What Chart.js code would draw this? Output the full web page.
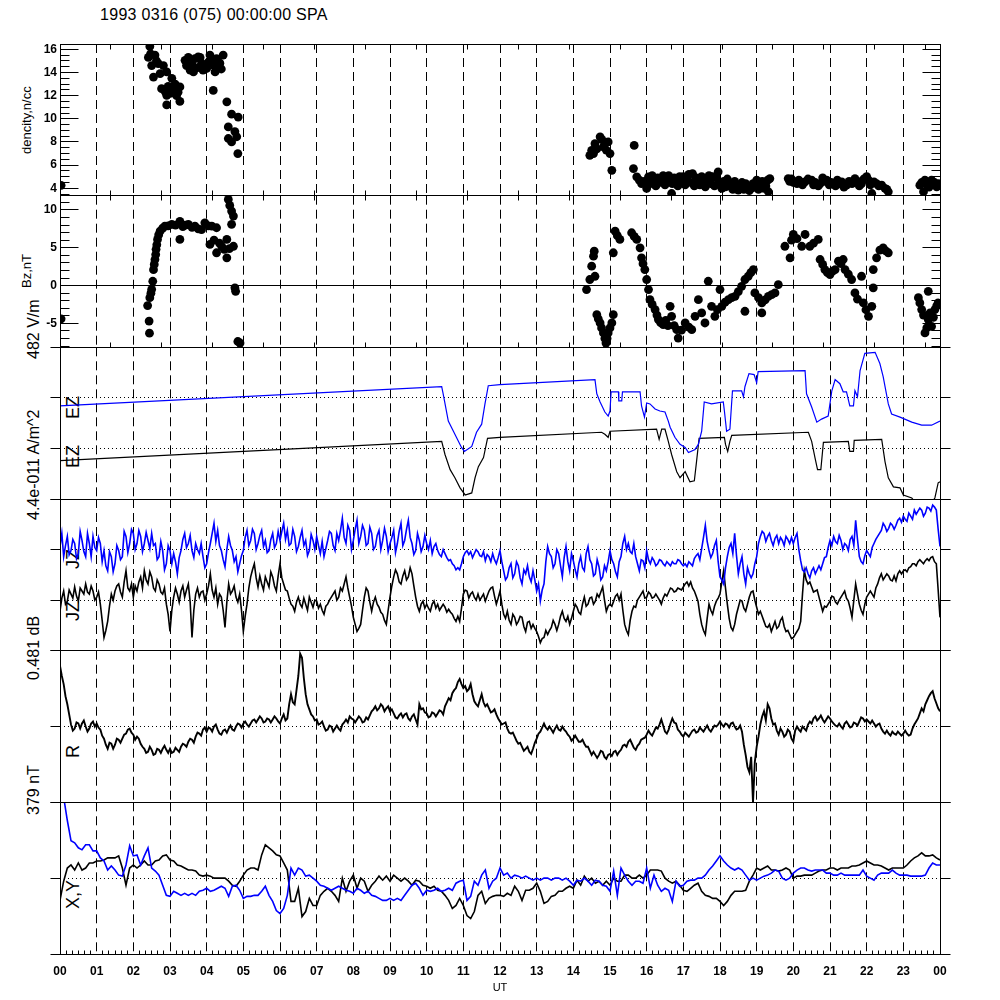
<!DOCTYPE html>
<html>
<head>
<meta charset="utf-8">
<script src="https://cdn.jsdelivr.net/npm/chart.js@4.4.1/dist/chart.umd.min.js"></script>
<style>
body { margin: 0; background: #fff; }
#page { position: relative; width: 1000px; height: 1000px; overflow: hidden; font-family: 'Liberation Sans', Arial, sans-serif; color: #000; }
#page canvas { position: absolute; left: 0; top: 0; }
#title { position: absolute; left: 100px; top: 7px; font-size: 16px; line-height: 16px; letter-spacing: 0.3px; white-space: nowrap; }
.lbl { position: absolute; white-space: nowrap; transform: rotate(-90deg); transform-origin: 0 0; }
.small { font-size: 13px; line-height: 13px; }
.scale { font-size: 16px; line-height: 16px; }
.name { font-size: 18px; line-height: 18px; }
</style>
</head>
<body>
<div id="page">
  <div id="title">1993 0316 (075) 00:00:00 SPA</div>
  <div class="lbl small" style="left:20px; top:154px;">dencity,n/cc</div>
  <div class="lbl small" style="left:20px; top:288px;">Bz,nT</div>
  <div class="lbl scale" style="left:26px; top:359px;">482 V/m</div>
  <div class="lbl scale" style="left:26px; top:520px;">4.4e-011 A/m^2</div>
  <div class="lbl scale" style="left:26px; top:680px;">0.481 dB</div>
  <div class="lbl scale" style="left:26px; top:815px;">379 nT</div>
  <div class="lbl name" style="left:64px; top:419px;">EZ</div>
  <div class="lbl name" style="left:64px; top:468px;">EZ</div>
  <div class="lbl name" style="left:64px; top:569px;">JZ</div>
  <div class="lbl name" style="left:64px; top:621px;">JZ</div>
  <div class="lbl name" style="left:64px; top:758px;">R</div>
  <div class="lbl name" style="left:64px; top:909px;">X,Y</div>
  <canvas id="pDens" width="1000" height="1000"></canvas>
  <canvas id="pBz" width="1000" height="1000"></canvas>
  <canvas id="pEz" width="1000" height="1000"></canvas>
  <canvas id="pJz" width="1000" height="1000"></canvas>
  <canvas id="pR" width="1000" height="1000"></canvas>
  <canvas id="pXY" width="1000" height="1000"></canvas>
</div>
<script>
// Tick labels
const hourTicks = [0, 1, 2, 3, 4, 5, 6, 7, 8, 9, 10, 11, 12, 13, 14, 15, 16, 17, 18, 19, 20, 21, 22, 23, 24];
const hourLabels = ['00', '01', '02', '03', '04', '05', '06', '07', '08', '09', '10', '11',
    '12', '13', '14', '15', '16', '17', '18', '19', '20', '21', '22', '23', '00'];
const densTicks = [4, 6, 8, 10, 12, 14, 16];
const bzTicks = [-5, 0, 5, 10];

// Density, n/cc (UT hours / value)
const densT = [0.03,
    2.41, 2.45, 2.47, 2.5, 2.55, 2.59, 2.63, 2.68, 2.73, 2.77, 2.82, 2.86, 2.91, 2.91, 2.91, 2.95, 3.0, 3.05, 3.09, 3.14, 3.18, 3.22, 3.27, 3.27,
    3.41, 3.45, 3.5, 3.55, 3.6, 3.64, 3.68, 3.73, 3.77, 3.82, 3.86, 3.9, 3.95, 4.0, 4.05, 4.09, 4.14, 4.18, 4.2, 4.23, 4.27, 4.3, 4.36, 4.4, 4.45,
    4.55, 4.59, 4.59, 4.68, 4.68, 4.77, 4.82, 4.85, 4.86,
    14.45, 14.5, 14.55, 14.59, 14.64, 14.73, 14.78, 14.82, 14.9, 14.95, 15.0, 15.05, 15.64, 15.66, 15.73, 15.8, 15.86, 15.93, 16.0,
    16.05, 16.1, 16.15, 16.2, 16.25, 16.3, 16.35, 16.4, 16.45, 16.5, 16.55, 16.6, 16.68, 16.7, 16.75, 16.8, 16.85, 16.9, 16.95, 17.0,
    17.05, 17.1, 17.15, 17.2, 17.25, 17.3, 17.35, 17.4, 17.45, 17.5, 17.55, 17.6, 17.65, 17.7, 17.75, 17.8, 17.85, 17.9, 17.95, 18.0,
    18.05, 18.1, 18.15, 18.2, 18.25, 18.3, 18.35, 18.4, 18.45, 18.5, 18.55, 18.6, 18.65, 18.7, 18.75, 18.8, 18.85, 18.9, 18.95, 19.0,
    19.05, 19.1, 19.15, 19.2, 19.25, 19.3, 19.32, 19.36,
    19.86, 19.9, 19.95, 20.0, 20.05, 20.1, 20.15, 20.2, 20.25, 20.32, 20.4, 20.5, 20.55, 20.6, 20.68, 20.73, 20.8, 20.85, 20.91, 20.98,
    21.03, 21.09, 21.15, 21.2, 21.25, 21.32, 21.38, 21.45, 21.52, 21.6, 21.68, 21.75, 21.8, 21.86, 21.92, 22.0, 22.05, 22.1, 22.14, 22.2,
    22.27, 22.33, 22.41, 22.5, 22.55, 22.59,
    23.45, 23.5, 23.55, 23.59, 23.65, 23.7, 23.77, 23.85, 23.91, 23.97];
const densV = [4.26,
    15.3, 16.25, 15.6, 14.6, 13.6, 15.5, 15.0, 14.76, 13.9, 12.6, 14.6, 12.4, 14.05, 12.03, 11.2, 12.8, 12.2, 13.5, 12.45, 13.0, 12.0, 12.3, 12.75, 11.5,
    15.05, 14.6, 15.3, 14.2, 14.7, 14.05, 15.2, 14.4, 15.35, 15.3, 14.8, 14.2, 14.3, 14.35, 14.9, 15.5, 15.05, 12.45, 14.6, 14.05, 15.2, 14.5, 14.8, 14.3, 15.5,
    11.47, 9.3, 8.3, 10.4, 8.0, 8.9, 8.45, 7.0, 10.15,
    6.85, 7.28, 7.0, 7.85, 7.4, 8.44, 8.2, 7.58, 7.3, 8.0, 7.0, 5.55, 5.7, 7.7, 4.99, 4.7, 4.41, 4.6, 3.99,
    4.99, 4.4, 5.1, 4.6, 4.2, 4.9, 4.5, 4.7, 5.1, 4.3, 4.8, 5.1, 3.55, 4.4, 4.9, 4.7, 4.2, 5.0, 4.6, 5.0,
    4.3, 4.8, 5.2, 4.5, 5.27, 4.2, 4.9, 4.7, 4.3, 5.0, 4.6, 4.13, 4.8, 5.1, 4.4, 5.0, 4.2, 4.9, 5.42, 4.5,
    4.0, 4.6, 4.13, 4.8, 4.2, 4.41, 3.9, 4.6, 4.0, 3.84, 4.3, 4.5, 3.9, 4.41, 4.1, 3.8, 3.99, 4.4, 4.1, 4.7,
    3.9, 4.3, 4.6, 3.99, 4.2, 4.7, 3.7, 4.84,
    4.84, 4.6, 4.8, 4.5, 4.56, 4.4, 4.7, 4.5, 4.3, 4.56, 4.8, 4.7, 4.3, 4.5, 4.2, 4.41, 4.9, 4.6, 4.7, 4.3,
    4.5, 4.41, 4.2, 4.7, 4.4, 4.56, 4.1, 4.27, 4.6, 4.4, 4.84, 4.6, 4.2, 4.41, 4.8, 5.0, 4.7, 4.3, 3.55, 4.56,
    4.4, 4.2, 4.27, 4.0, 3.9, 3.7,
    4.27, 4.5, 3.7, 4.7, 4.3, 4.1, 4.7, 4.5, 4.13, 4.4];

// Bz, nT
const bzT = [0.03, 2.39, 2.43, 2.44, 2.45, 2.48, 2.5, 2.53, 2.55, 2.57,
    2.59, 2.61, 2.62, 2.64, 2.66, 2.69, 2.73, 2.8, 2.86, 2.95,
    3.05, 3.15, 3.27, 3.27, 3.35, 3.42, 3.5, 3.6, 3.68, 3.77,
    3.86, 3.95, 4.05, 4.09, 4.14, 4.2, 4.27, 4.27, 4.35, 4.41,
    4.48, 4.55, 4.55, 4.62, 4.73, 4.59, 4.63, 4.68, 4.73, 4.68,
    4.77, 4.79, 4.85, 4.91,
    14.36, 14.45, 14.5, 14.55, 14.57, 14.59, 14.64, 14.68, 14.73, 14.77,
    14.82, 14.86, 14.89, 14.92, 14.95, 15.0, 15.05, 15.09, 15.09, 15.14,
    15.2, 15.27, 15.59, 15.66, 15.73, 15.82, 15.86, 15.9, 15.95, 16.0,
    16.05, 16.09, 16.15, 16.23, 16.28, 16.32, 16.38, 16.45, 16.52, 16.58,
    16.64, 16.68, 16.75, 16.82, 16.86, 16.95, 17.05, 17.15, 17.23, 17.32,
    17.41, 17.5, 17.59, 17.68, 17.77, 17.86, 17.93, 18.0, 18.05, 18.14,
    18.23, 18.32, 18.41, 18.5, 18.59, 18.68, 18.68, 18.77, 18.84, 18.91,
    18.95, 19.05, 19.14, 19.14, 19.23, 19.32, 19.41, 19.5, 19.59, 19.77,
    19.91, 19.95, 20.0, 20.1, 20.23, 20.32, 20.45, 20.55, 20.68, 20.73,
    20.8, 20.86, 20.93, 21.0, 21.07, 21.14, 21.23, 21.3, 21.36, 21.41,
    21.5, 21.59, 21.68, 21.75, 21.86, 21.91, 21.98, 22.05, 22.14, 22.18,
    22.18, 22.27, 22.36, 22.45, 22.52, 22.59, 23.41, 23.45, 23.5, 23.55,
    23.59, 23.64, 23.68, 23.68, 23.73, 23.77, 23.82, 23.86, 23.91, 23.95];
const bzV = [-4.4, -2.65, -4.7, -6.3, -1.6, -1.0, -0.5, 0.57, 2.1, 2.8,
    3.45, 4.1, 4.8, 5.4, 6.1, 6.7, 7.2, 7.6, 7.86, 7.9,
    8.1, 8.0, 8.5, 6.1, 7.8, 8.0, 8.1, 7.7, 7.86, 7.5,
    7.4, 8.3, 7.9, 5.44, 7.86, 6.0, 7.65, 4.34, 5.6, 5.2,
    4.8, 3.67, 6.1, 4.9, 5.2, 11.4, 10.6, 9.85, 9.2, 8.1,
    -0.3, -0.76, -7.4, -7.6,
    -0.53, 0.8, 2.56, 3.89, 4.55, 1.23, -3.85, -4.4, -4.95, -5.6,
    -6.27, -7.0, -7.6, -7.0, -6.27, -5.6, -4.95, -3.85, 4.34, 7.2,
    6.6, 6.1, 6.99, 6.5, 6.1, 5.0, 3.67, 2.9, 2.12, 0.8,
    -0.53, -1.86, -2.5, -3.18, -3.9, -4.5, -4.9, -5.17, -4.6, -5.3,
    -2.74, -4.07, -5.3, -5.84, -6.94, -5.9, -4.95, -5.5, -5.84, -4.07,
    -1.86, -3.62, -4.95, 0.57, -2.74, -4.07, -3.2, -0.53, -2.74, -2.2,
    -1.86, -1.6, -1.42, -0.8, -0.1, 0.8, -3.4, 1.23, 1.7, 2.12,
    -0.97, -1.6, -2.3, -3.62, -1.9, -1.42, -1.2, -0.97, 0.13, 5.2,
    3.67, 6.0, 6.76, 6.2, 5.2, 6.76, 5.2, 5.6, 6.1, 3.45,
    2.8, 2.12, 1.7, 1.46, 1.9, 2.12, 3.23, 2.9, 3.45, 2.12,
    1.5, 0.8, -0.97, -1.8, 1.23, -2.3, -3.2, -4.07, -2.74, -0.3,
    2.12, 3.67, 4.7, 5.0, 4.6, 4.34, -1.6, -2.3, -3.18, -3.9,
    -6.27, -5.6, -0.76, -4.5, -3.6, -5.4, -4.2, -3.18, -2.7, -2.3];

// EZ traces, panel units (0..150, references at 50 and 100)
const ezBlueT = [0, 10.41, 10.45, 10.59, 10.77, 10.95, 11.03, 11.23, 11.36, 11.5,
    11.59, 11.68, 12.0, 14.59, 14.64, 14.73, 14.86, 14.95, 15.0, 15.03,
    15.23, 15.24, 15.32, 15.34, 15.82, 15.86, 15.94, 16.0, 16.09, 16.23,
    16.36, 16.5, 16.59, 16.64, 16.77, 16.91, 17.05, 17.14, 17.32, 17.41,
    17.5, 17.57, 17.77, 18.09, 18.12, 18.18, 18.27, 18.34, 18.59, 18.64,
    18.68, 18.79, 18.93, 19.0, 19.04, 20.32, 20.36, 20.5, 20.64, 20.77,
    20.95, 21.05, 21.14, 21.27, 21.36, 21.45, 21.54, 21.64, 21.68, 21.75,
    21.82, 21.95, 22.23, 22.36, 22.45, 22.59, 22.68, 22.91, 23.23, 23.5,
    23.77, 24.0];
const ezBlueV = [92, 111, 104, 77, 64, 51, 47, 52, 66, 74,
    94, 112, 113, 118, 104, 96, 86, 82, 87, 106,
    106, 97, 97, 106, 106, 92, 81, 95, 94, 89,
    87, 86, 77, 71, 61, 54, 51, 46, 49, 54,
    67, 96, 94, 96, 87, 67, 69, 107, 107, 101,
    111, 124, 123, 115, 126, 127, 104, 91, 76, 79,
    82, 107, 118, 114, 106, 106, 92, 92, 107, 101,
    127, 144, 145, 134, 121, 94, 84, 81, 76, 73,
    73, 77];
const ezBlackT = [0, 10.41, 10.5, 10.64, 10.77, 10.91, 11.05, 11.23, 11.32, 11.41,
    11.55, 11.66, 12.0, 14.77, 14.86, 14.95, 15.0, 16.27, 16.34, 16.41,
    16.5, 16.59, 16.68, 16.82, 16.91, 17.05, 17.18, 17.3, 17.36, 17.43,
    18.12, 18.15, 18.21, 18.27, 18.32, 20.41, 20.5, 20.59, 20.66, 20.75,
    20.82, 21.5, 21.54, 21.64, 21.66, 22.41, 22.5, 22.59, 22.73, 22.91,
    23.0, 23.23, 23.32, 23.77, 23.86, 23.95, 24.0];
const ezBlackV = [38, 57, 44, 29, 21, 11, 4, 6, 21, 32,
    41, 60, 61, 66, 64, 61, 67, 69, 59, 69,
    69, 57, 44, 27, 21, 27, 17, 18, 37, 60,
    61, 54, 47, 57, 63, 66, 57, 41, 29, 29,
    56, 57, 47, 47, 58, 59, 37, 21, 12, 11,
    4, 1, -3, -4, 1, 16, 17];

// Sampled traces: one value every 0.1 h from 00 to 24 UT (one row per hour);
// the *Mid arrays hold the readings taken halfway between those samples
const jzBlue = [
    103, 93, 113, 99, 106, 96, 109, 93, 106, 113,
    99, 106, 99, 79, 93, 86, 99, 93, 113, 106,
    116, 106, 113, 106, 109, 116, 106, 93, 99, 86,
    99, 96, 76, 99, 116, 106, 99, 106, 96, 93,
    86, 106, 126, 119, 99, 83, 113, 99, 93, 86,
    99, 119, 109, 116, 106, 119, 109, 99, 116, 106,
    109, 126, 119, 106, 113, 103, 119, 109, 99, 109,
    113, 96, 93, 109, 116, 99, 109, 131, 106, 119,
    109, 129, 113, 119, 106, 116, 103, 119, 109, 113,
    106, 119, 106, 126, 109, 129, 106, 99, 109, 103,
    106, 109, 103, 99, 93, 96, 89, 86, 80, 80,
    93, 99, 98, 96, 98, 93, 89, 93, 96, 86,
    99, 79, 73, 86, 76, 84, 66, 76, 73, 79,
    59, 49, 66, 103, 93, 86, 96, 73, 103, 79,
    89, 73, 93, 79, 103, 86, 76, 83, 73, 79,
    99, 86, 73, 93, 113, 106, 96, 93, 79, 89,
    99, 86, 89, 86, 89, 84, 86, 88, 86, 89,
    84, 83, 86, 91, 96, 101, 124, 99, 96, 109,
    73, 66, 93, 106, 116, 76, 93, 66, 76, 76,
    93, 113, 116, 113, 109, 111, 106, 109, 113, 106,
    106, 116, 89, 78, 76, 79, 76, 84, 86, 93,
    109, 113, 106, 109, 106, 99, 113, 129, 93, 86,
    99, 93, 106, 113, 119, 123, 121, 124, 124, 131,
    133, 128, 133, 139, 138, 139, 136, 141, 144, 139,
    103];
const jzBlueMid = [
    116, 104, 95, 110, 91, 118, 98, 116, 93, 102,
    112, 88, 84, 98, 78, 104, 90, 118, 97, 120,
    100, 119, 98, 117, 101, 104, 90, 108, 80, 104,
    86, 88, 92, 110, 102, 114, 92, 100, 106, 82,
    97, 116, 108, 104, 90, 100, 104, 88, 78, 94,
    112, 104, 120, 100, 114, 103, 97, 110, 102, 118,
    118, 110, 104, 120, 98, 112, 104, 94, 115, 100,
    104, 108, 101, 118, 104, 116, 119, 112, 124, 100,
    120, 106, 124, 104, 122, 100, 114, 100, 121, 98,
    112, 97, 118, 104, 120, 112, 95, 116, 98, 114,
    100, 96, 106, 95, 100, 92, 90, 84, 82, 86,
    97, 95, 92, 100, 94, 98, 95, 88, 90, 92,
    88, 70, 82, 72, 88, 72, 80, 84, 68, 70,
    66, 60, 88, 96, 82, 100, 84, 92, 88, 96,
    80, 86, 82, 96, 90, 74, 90, 70, 84, 88,
    90, 78, 88, 106, 100, 98, 106, 86, 90, 82,
    90, 92, 84, 90, 86, 88, 84, 86, 90, 86,
    86, 88, 84, 94, 90, 112, 108, 92, 104, 88,
    70, 82, 102, 96, 94, 86, 76, 82, 72, 86,
    106, 118, 108, 116, 104, 114, 112, 104, 110, 112,
    112, 100, 80, 82, 72, 82, 80, 80, 92, 102,
    104, 108, 114, 100, 104, 110, 104, 110, 88, 94,
    96, 102, 110, 116, 126, 118, 126, 120, 129, 127,
    130, 136, 130, 135, 141, 133, 142, 138, 142, 120];
const jzBlack = [
    39, 59, 49, 56, 63, 49, 59, 66, 56, 59,
    53, 46, 13, 29, 56, 59, 66, 53, 79, 59,
    53, 59, 73, 79, 66, 73, 59, 66, 56, 46,
    19, 53, 56, 59, 53, 66, 13, 56, 53, 59,
    56, 76, 53, 46, 53, 23, 66, 59, 53, 56,
    19, 46, 73, 86, 63, 66, 73, 63, 73, 59,
    86, 66, 59, 46, 39, 53, 43, 46, 53, 43,
    49, 46, 36, 46, 53, 59, 53, 59, 73, 53,
    33, 19, 26, 53, 59, 39, 53, 43, 36, 26,
    53, 73, 76, 66, 79, 73, 76, 53, 39, 49,
    46, 39, 49, 46, 43, 43, 41, 36, 29, 29,
    56, 59, 56, 53, 56, 53, 49, 59, 63, 46,
    59, 36, 39, 26, 33, 29, 33, 19, 29, 26,
    19, 8, 13, 16, 23, 26, 26, 39, 29, 26,
    39, 43, 36, 53, 46, 53, 49, 53, 63, 39,
    46, 49, 56, 56, 26, 16, 39, 43, 53, 59,
    53, 56, 53, 53, 46, 56, 58, 61, 59, 61,
    63, 68, 68, 59, 49, 26, 16, 46, 36, 49,
    56, 79, 46, 23, 26, 43, 49, 39, 53, 59,
    43, 39, 29, 23, 19, 29, 24, 33, 19, 16,
    13, 19, 29, 79, 66, 63, 59, 53, 39, 43,
    49, 53, 46, 53, 59, 49, 33, 66, 46, 36,
    53, 59, 53, 66, 76, 73, 74, 69, 69, 79,
    79, 78, 83, 86, 88, 88, 89, 89, 93, 86,
    33];
const jzBlackMid = [
    52, 46, 60, 52, 54, 62, 56, 58, 64, 50,
    58, 30, 20, 44, 50, 64, 58, 68, 62, 66,
    64, 68, 62, 70, 78, 62, 70, 58, 62, 36,
    40, 62, 48, 64, 60, 48, 40, 62, 58, 50,
    64, 60, 62, 56, 40, 48, 56, 64, 48, 40,
    34, 62, 80, 72, 74, 60, 68, 78, 64, 74,
    72, 60, 52, 44, 48, 46, 52, 40, 48, 50,
    42, 40, 44, 50, 56, 50, 62, 66, 62, 44,
    26, 22, 40, 62, 48, 48, 46, 38, 30, 40,
    64, 80, 68, 74, 70, 82, 64, 44, 46, 42,
    42, 46, 42, 40, 46, 38, 38, 32, 34, 42,
    60, 52, 58, 50, 50, 56, 54, 62, 54, 52,
    46, 32, 30, 36, 26, 34, 24, 28, 22, 22,
    14, 12, 20, 20, 30, 20, 34, 32, 34, 32,
    46, 38, 46, 44, 52, 46, 56, 58, 50, 44,
    44, 54, 50, 40, 20, 30, 44, 50, 56, 52,
    58, 52, 56, 50, 52, 54, 62, 58, 62, 60,
    66, 64, 62, 54, 36, 20, 32, 40, 44, 52,
    68, 62, 32, 20, 36, 50, 42, 46, 58, 50,
    36, 34, 24, 26, 24, 22, 30, 24, 20, 12,
    16, 22, 56, 70, 68, 58, 60, 46, 44, 46,
    54, 48, 50, 56, 52, 42, 50, 56, 40, 46,
    56, 56, 62, 72, 70, 76, 70, 74, 76, 76,
    80, 82, 86, 84, 90, 86, 91, 92, 88, 60];
const rVals = [
    60, 42, 22, 2, -2, 3, 3, 0, -2, 5,
    3, -3, -12, -22, -17, -18, -13, -12, -7, -2,
    -8, -10, -17, -22, -25, -23, -27, -23, -22, -23,
    -22, -25, -23, -20, -18, -15, -13, -10, -7, -3,
    -5, -2, 0, -3, -8, -3, -2, -3, 0, 2,
    3, 2, 3, 7, 7, 8, 5, 7, 7, 8,
    3, 12, 8, 32, 22, 50, 68, 32, 17, 10,
    7, 3, 0, -3, 0, -2, -2, 2, 7, 10,
    7, 7, 8, 5, 7, 15, 20, 18, 20, 18,
    15, 13, 8, 13, 12, 8, 10, 7, 22, 18,
    13, 10, 13, 13, 15, 20, 28, 33, 38, 47,
    38, 35, 42, 25, 20, 32, 20, 18, 15, 12,
    5, 3, -2, -7, -10, -17, -20, -22, -25, -22,
    -12, -5, 3, -3, -3, -2, -3, 0, -5, -10,
    -12, -12, -15, -17, -20, -28, -28, -28, -25, -32,
    -27, -25, -28, -23, -18, -15, -17, -23, -17, -12,
    -8, -7, -5, -2, 7, -5, -3, 8, 3, -5,
    -10, -8, -7, -3, -5, -3, -2, -3, -2, 0,
    5, 0, 2, 3, 0, -2, -5, -28, -45, -75,
    -20, 2, 15, 22, 8, 3, -8, -5, -8, -5,
    -15, 0, -5, -2, 2, 3, 10, 8, 7, 7,
    8, 3, 0, 0, 3, 2, 0, 3, 5, 8,
    7, 3, 3, 2, -2, -7, -7, -5, -8, -7,
    -7, -7, -8, 2, 8, 18, 22, 30, 35, 23,
    15];
const rMid = [
    50, 30, 12, -4, 4, -2, 6, -5, 3, 0,
    -1, -9, -18, -16, -22, -12, -16, -8, -3, -6,
    -13, -12, -20, -26, -20, -28, -22, -26, -19, -26,
    -26, -21, -25, -17, -20, -12, -16, -6, -9, -1,
    -1, -5, 2, -7, -4, -6, 1, -4, 3, -1,
    5, 0, 6, 4, 10, 4, 8, 4, 10, 5,
    8, 6, 22, 24, 36, 72, 48, 22, 12, 6,
    2, 5, -4, 1, -5, 1, -4, 4, 4, 8,
    4, 10, 4, 9, 11, 17, 16, 22, 15, 20,
    17, 9, 11, 9, 13, 6, 12, 2, 17, 14,
    9, 14, 10, 16, 12, 24, 26, 36, 44, 42,
    40, 37, 32, 22, 26, 24, 22, 14, 17, 8,
    2, 4, -6, -6, -14, -16, -24, -20, -27, -16,
    -7, -1, -1, 0, -6, 1, -4, -3, -8, -14,
    -9, -15, -13, -20, -24, -25, -31, -24, -30, -28,
    -29, -24, -25, -19, -20, -13, -21, -19, -13, -11,
    -4, -9, -1, 2, 1, -7, 3, 4, -3, -8,
    -6, -10, -4, -6, -1, -5, 1, -5, 1, 2,
    2, 3, -1, 4, -3, 1, -18, -40, -30, -35,
    -10, 10, 6, 18, 2, -4, -2, -10, -3, -12,
    -4, -3, 0, -4, 5, 8, 6, 11, 4, 10,
    5, 1, 3, -2, 5, -1, 4, 1, 9, 5,
    5, 6, 0, 3, -5, -4, -9, -7, -5, -9,
    -4, -9, -2, 5, 13, 15, 26, 33, 28, 18];
const xVals = [
    -22, -3, 10, 13, 8, 15, 8, 10, 15, 15,
    17, 17, 18, 20, 20, 20, 22, 10, -7, 10,
    13, 10, 13, 17, 13, 13, 17, 18, 22, 23,
    18, 17, 13, 12, 10, 8, 8, 7, 3, 2,
    3, 2, 0, 0, 0, 0, -3, -7, -8, -3,
    3, 8, 10, 10, 8, 23, 33, 30, 27, 23,
    22, 15, 8, -23, -23, -10, -38, -33, -20, -27,
    -27, -17, -13, -10, -13, -17, -23, 0, -13, -3,
    3, -10, 0, -3, -13, -7, -3, 2, -2, 2,
    -3, 3, 0, -3, 0, -3, -7, -2, -3, -7,
    -8, -10, -8, -12, -13, -17, -22, -30, -27, -20,
    -27, -37, -40, -33, -17, -13, -25, -20, -18, -17,
    -17, -18, -15, -17, -8, -13, -22, -12, -12, -10,
    -5, -13, -25, -23, -18, -17, -13, -13, -10, -8,
    -10, -2, -7, 2, -3, 0, -5, -3, -7, -3,
    -7, 0, -3, -3, 3, 3, 0, 0, 3, 0,
    3, 8, 8, 8, 7, 0, -3, -5, -3, -7,
    -12, -13, -10, -7, -5, -13, -17, -18, -20, -20,
    -23, -27, -23, -17, -13, -13, -13, -12, -3, 3,
    10, 8, 10, 12, 8, 8, 7, 8, 10, 8,
    0, 2, 2, 3, 3, 3, 5, 7, 8, 8,
    10, 10, 8, 10, 10, 10, 12, 12, 13, 15,
    17, 15, 13, 13, 12, 10, 8, 10, 10, 10,
    10, 13, 17, 20, 22, 25, 22, 22, 23, 20,
    18];
const yVals = [
    null, 80, 57, 37, 35, 30, 28, 33, 33, 27,
    27, 20, 17, 8, 12, 8, 3, 2, 13, 32,
    22, 23, 13, 22, 30, 10, 7, 3, -7, -17,
    -18, -13, -15, -17, -15, -17, -15, -17, -13, -12,
    -10, -13, -12, -10, -8, -10, -18, -8, -7, -12,
    -20, -18, -18, -17, -17, -13, -8, -17, -23, -32,
    -35, -30, -17, 10, 3, 10, 8, 2, 3, 0,
    -3, -7, -8, -10, -12, -10, -8, -10, -12, -13,
    -15, -10, -12, -15, -13, -17, -18, -20, -22, -22,
    -20, -22, -20, -22, -17, -12, -7, -5, -10, -17,
    -12, -13, -12, -10, -13, -12, -10, -12, -5, -3,
    -2, -22, -18, -3, -7, 3, 8, -10, -3, 0,
    10, 3, 5, 0, 3, 2, 0, 2, 0, -2,
    0, -2, 0, 0, -2, 0, 0, -2, 0, -3,
    -7, -2, -3, 0, -3, -7, -2, -3, -7, -8,
    -13, 7, -17, 10, 3, -3, -7, -3, -3, -5,
    10, -10, 3, -7, -13, -10, -12, -23, -3, -8,
    -7, -3, -2, -2, 0, 0, 3, 8, 12, 17,
    22, 17, 13, 10, 8, 10, 8, 3, -2, 0,
    -2, 0, 2, 3, 5, 8, 7, 0, -2, 0,
    5, 8, 10, 10, 8, 7, 8, 8, 8, 5,
    5, 3, 3, 5, 3, 3, 3, 3, 3, 8,
    2, 0, -2, 3, 5, 5, 5, 8, 5, 3,
    3, 3, 2, 2, 2, 2, 3, 10, 15, 13,
    13];
const sampleT = Array.from({ length: 241 }, (_, i) => i / 10);

// Layout
const PAGE = 1000;
const AREA_LEFT = 60;
const AREA_RIGHT = 940;
const PANEL_TOPS = [44, 195.7, 347.3, 499, 650.7, 802.3];
const PANEL_H = 151.7;
const FONT = "'Liberation Sans', Arial, sans-serif";
const BLUE = '#0000ff';

Chart.defaults.font.family = FONT;
Chart.defaults.color = '#000';

const crisp = v => Math.round(v - 0.5) + 0.5;

function hline(ctx, x0, x1, y) {
    ctx.beginPath();
    ctx.moveTo(x0, y);
    ctx.lineTo(x1, y);
    ctx.stroke();
}

function vline(ctx, x, y0, y1) {
    ctx.beginPath();
    ctx.moveTo(x, y0);
    ctx.lineTo(x, y1);
    ctx.stroke();
}

// merge the 0.1 h samples with their half-step readings
function withMid(vals, mids) {
    const t = [], v = [];
    vals.forEach((val, i) => {
        t.push(sampleT[i]);
        v.push(val);
        if (i < mids.length) {
            t.push(sampleT[i] + 0.05);
            v.push(mids[i]);
        }
    });
    return { t, v };
}

// per-panel frame settings, keyed by canvas id
const decor = {
    pDens: { major: densTicks, minorStep: 0.5, secTicks: true },
    pBz: { major: bzTicks, minorStep: 1, secTicks: true, zero: true },
    pEz: { refs: [50, 100], outward: true },
    pJz: { refs: [50, 100], outward: true },
    pR: { refs: [0], outward: true },
    pXY: { refs: [0], outward: true, minutes: true }
};

const panelDecor = {
    id: 'panelDecor',
    beforeDatasetsDraw(chart) {
        const d = decor[chart.canvas.id];
        const { ctx, chartArea: a } = chart;
        const x = chart.scales.x, y = chart.scales.y;
        ctx.save();
        ctx.strokeStyle = '#000';
        ctx.lineWidth = 1;
        ctx.setLineDash([9, 5]);
        hourTicks.forEach(h => {
            if (h > 0 && h < 24) vline(ctx, crisp(x.getPixelForValue(h)), a.top, a.bottom);
        });
        ctx.setLineDash([1, 3]);
        (d.refs || []).forEach(v => hline(ctx, a.left, a.right, crisp(y.getPixelForValue(v))));
        ctx.setLineDash([]);
        if (d.zero) hline(ctx, a.left, a.right, crisp(y.getPixelForValue(0)));
        ctx.restore();
    },
    afterDatasetsDraw(chart) {
        const d = decor[chart.canvas.id];
        const { ctx, chartArea: a } = chart;
        const x = chart.scales.x, y = chart.scales.y;
        const L = crisp(a.left), R = crisp(a.right), T = crisp(a.top), B = crisp(a.bottom);
        ctx.save();
        ctx.strokeStyle = '#000';
        ctx.lineWidth = 1;
        ctx.strokeRect(L, T, R - L, B - T);

        if (d.major) {
            const lo = Math.ceil(y.min / d.minorStep) * d.minorStep;
            for (let v = lo; v <= y.max; v += d.minorStep) {
                const major = d.major.includes(Math.round(v * 100) / 100);
                const len = major ? 18 : 9;
                const py = crisp(y.getPixelForValue(v));
                hline(ctx, L, L + len, py);
                hline(ctx, R - len, R, py);
            }
        }
        if (d.secTicks) {
            // 5000 s ticks along the top and bottom edges
            for (let s = 5000; s < 86400; s += 5000) {
                const px = crisp(x.getPixelForValue(s / 3600));
                vline(ctx, px, T, T + 5);
                vline(ctx, px, B - 5, B);
            }
        }
        if (d.outward) {
            hline(ctx, L - 10, R + 10, T);
            hline(ctx, L - 10, R + 10, B);
            d.refs.forEach(v => {
                const py = crisp(y.getPixelForValue(v));
                hline(ctx, L - 10, L, py);
                hline(ctx, R, R + 10, py);
            });
        }
        if (d.minutes) {
            for (let m = 10; m < 1440; m += 10) {
                if (m % 60 === 0) continue;
                vline(ctx, crisp(x.getPixelForValue(m / 60)), B - 4, B);
            }
        }
        ctx.restore();
    }
};

const pts = (ts, vs) => ts.map((t, i) => ({ x: t, y: vs[i] }));

function dots(ts, vs) {
    return {
        data: pts(ts, vs), showLine: false, clip: 0,
        pointRadius: 4.4, pointBackgroundColor: '#000', pointBorderWidth: 0
    };
}

function trace(ts, vs, color, width) {
    return {
        data: pts(ts, vs), borderColor: color, borderWidth: width, clip: 0,
        pointRadius: 0, tension: 0, spanGaps: false
    };
}

const hiddenX = { type: 'linear', min: 0, max: 24, display: false };

const bottomAxis = {
    type: 'linear', min: 0, max: 24,
    afterBuildTicks: s => { s.ticks = hourTicks.map(v => ({ value: v })); },
    afterFit: s => { s.height = 46; },
    grid: { display: false, drawTicks: false },
    border: { display: false },
    ticks: {
        autoSkip: false, maxRotation: 0, padding: 10, color: '#000',
        font: { family: FONT, size: 12, weight: 'bold' },
        callback: (v, i) => hourLabels[i]
    },
    title: {
        display: true, text: 'UT', color: '#000',
        font: { family: FONT, size: 11 }, padding: { top: 0, bottom: 5 }
    }
};

function labelledY(min, max, ticks) {
    return {
        type: 'linear', min, max, position: 'left',
        afterBuildTicks: s => { s.ticks = ticks.map(v => ({ value: v })); },
        afterFit: s => { s.width = AREA_LEFT; },
        grid: { display: false, drawTicks: false },
        border: { display: false },
        ticks: { padding: 3, color: '#000', font: { family: FONT, size: 12, weight: 'bold' } }
    };
}

function makePanel(id, idx, datasets, yScale, xScale) {
    const top = PANEL_TOPS[idx];
    const bottom = top + PANEL_H;
    const hasAxisY = yScale.display !== false;
    const hasAxisX = xScale.display !== false;
    return new Chart(document.getElementById(id), {
        type: 'line',
        data: { datasets },
        options: {
            responsive: false,
            animation: false,
            events: [],
            layout: {
                padding: {
                    left: hasAxisY ? 0 : AREA_LEFT,
                    right: PAGE - AREA_RIGHT,
                    top: top,
                    bottom: hasAxisX ? 0 : PAGE - bottom
                }
            },
            plugins: { legend: { display: false }, tooltip: { enabled: false } },
            scales: { x: xScale, y: yScale }
        },
        plugins: [panelDecor]
    });
}

const jzB = withMid(jzBlue, jzBlueMid);
const jzK = withMid(jzBlack, jzBlackMid);
const rS = withMid(rVals, rMid);

makePanel('pDens', 0, [dots(densT, densV)], labelledY(3.36, 16.46, densTicks), hiddenX);
makePanel('pBz', 1, [dots(bzT, bzV)], labelledY(-8.18, 11.89, bzTicks), hiddenX);
makePanel('pEz', 2, [
    trace(ezBlueT, ezBlueV, BLUE, 1.2),
    trace(ezBlackT, ezBlackV, '#000', 1.2)
], { type: 'linear', min: 0, max: 150, display: false }, hiddenX);
makePanel('pJz', 3, [
    trace(jzB.t, jzB.v, BLUE, 1.6),
    trace(jzK.t, jzK.v, '#000', 1.6)
], { type: 'linear', min: 0, max: 150, display: false }, hiddenX);
makePanel('pR', 4, [
    trace(rS.t, rS.v, '#000', 1.9)
], { type: 'linear', min: -75, max: 75, display: false }, hiddenX);
makePanel('pXY', 5, [
    trace(sampleT, yVals, BLUE, 1.6),
    trace(sampleT, xVals, '#000', 1.6)
], { type: 'linear', min: -75, max: 75, display: false }, bottomAxis);
</script>
</body>
</html>
